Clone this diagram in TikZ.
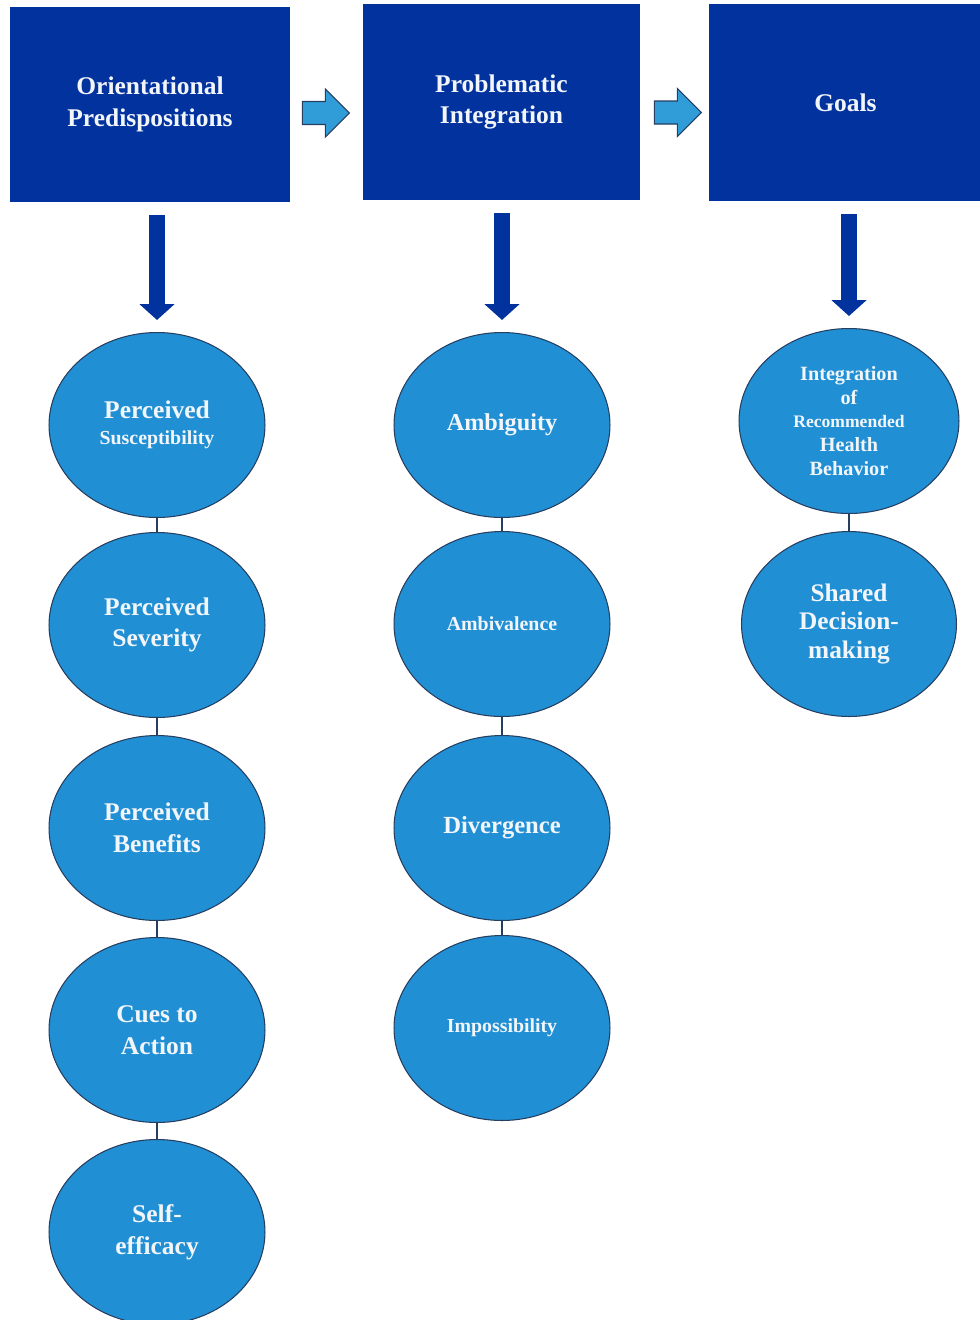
\documentclass[tikz,border=0pt]{standalone}
\usepackage{fontspec}
\setmainfont{Liberation Serif}
\usetikzlibrary{arrows.meta,shapes.geometric,calc}
\definecolor{hbmnavy}{RGB}{2,50,158}
\definecolor{hbmsky}{RGB}{33,143,212}
\definecolor{hbmedge}{RGB}{38,62,96}
\definecolor{hbmarrow}{RGB}{48,156,216}
\definecolor{hbmtext}{RGB}{242,246,250}
\newcommand{\subfont}{\fontsize{11.3}{14}\selectfont}

\begin{document}
\begin{tikzpicture}[
  x=0.02cm, y=-0.02cm,
  header/.style={fill=hbmnavy, draw=none, minimum width=5.6cm, minimum height=3.9cm, inner sep=0pt,
    text=hbmtext, align=center, font=\bfseries\fontsize{14.5}{18}\selectfont},
  bubble/.style={ellipse, fill=hbmsky, draw=hbmedge, line width=0.6pt, minimum width=4.32cm,
    minimum height=3.7cm, inner sep=0pt, text=hbmtext, align=center, font=\bfseries\fontsize{14.5}{18}\selectfont},
  link/.style={draw=hbmedge, line width=0.6pt},
  droparrow/.style={draw=hbmnavy, line width=9.6pt, -{Triangle[width=19.4pt,length=9pt]},
    shorten <=0.26cm, shorten >=0.24cm},
  fatarrow/.style={fill=hbmarrow, draw=hbmedge, line width=0.6pt, line join=miter}
]
\useasboundingbox (0,0) rectangle (980,1320);

% three stage headers
\node[header] (orient) at (150,104.5) {Orientational\\Predispositions};
\node[header, minimum width=5.54cm, minimum height=3.92cm] (problem) at (501.5,102) {Problematic\\Integration};
\node[header, minimum width=5.46cm, minimum height=3.94cm] (goals) at (845.5,102.5) {Goals};

% block arrows between the headers
\draw[fatarrow] ([shift={(12,-3)}]orient.east) -- ++(23,0) -- ++(0,-12.5) -- ++(24,24)
  -- ++(-24,24) -- ++(0,-12.5) -- ++(-23,0) -- cycle;
\draw[fatarrow] ([shift={(14,-1)}]problem.east) -- ++(23,0) -- ++(0,-12.5) -- ++(24,24)
  -- ++(-24,24) -- ++(0,-12.5) -- ++(-23,0) -- cycle;

% first column
\node[bubble] (suscept) at (157,425) {Perceived\\[-3pt]{\subfont Susceptibility}};
\node[bubble] (severity) at (157,625) {Perceived\\Severity};
\node[bubble] (benefits) at (157,828) {Perceived\\Benefits};
\node[bubble] (cues) at (157,1030) {Cues to\\Action};
\node[bubble] (efficacy) at (157,1232) {Self-\\efficacy};

% second column
\node[bubble, font=\bfseries\fontsize{13.8}{18}\selectfont] (ambiguity) at (502,425) {Ambiguity};
\node[bubble] (ambivalence) at (502,624) {\subfont Ambivalence};
\node[bubble, font=\bfseries\fontsize{14}{18}\selectfont] (divergence) at (502,828) {Divergence};
\node[bubble] (impossible) at (502,1028) {\subfont Impossibility};

% third column
\node[bubble, minimum width=4.4cm, font=\bfseries\fontsize{11.5}{13.6}\selectfont] (integrate) at (849,421)
  {Integration\\of\\{\fontsize{10}{13.6}\selectfont Recommended}\\Health\\Behavior};
\node[bubble, minimum width=4.3cm, font=\bfseries\fontsize{14.4}{16}\selectfont] (shared) at (849,624)
  {Shared\\Decision-\\making};

% thin links inside each column
\foreach \a/\b in {suscept/severity, severity/benefits, benefits/cues, cues/efficacy,
  ambiguity/ambivalence, ambivalence/divergence, divergence/impossible, integrate/shared}
  \draw[link] (\a) -- (\b);

% headers down to their first item
\draw[droparrow] (orient.south -| suscept.north) -- (suscept.north);
\draw[droparrow] (problem.south -| ambiguity.north) -- (ambiguity.north);
\draw[droparrow] (goals.south -| integrate.north) -- (integrate.north);
\end{tikzpicture}
\end{document}
